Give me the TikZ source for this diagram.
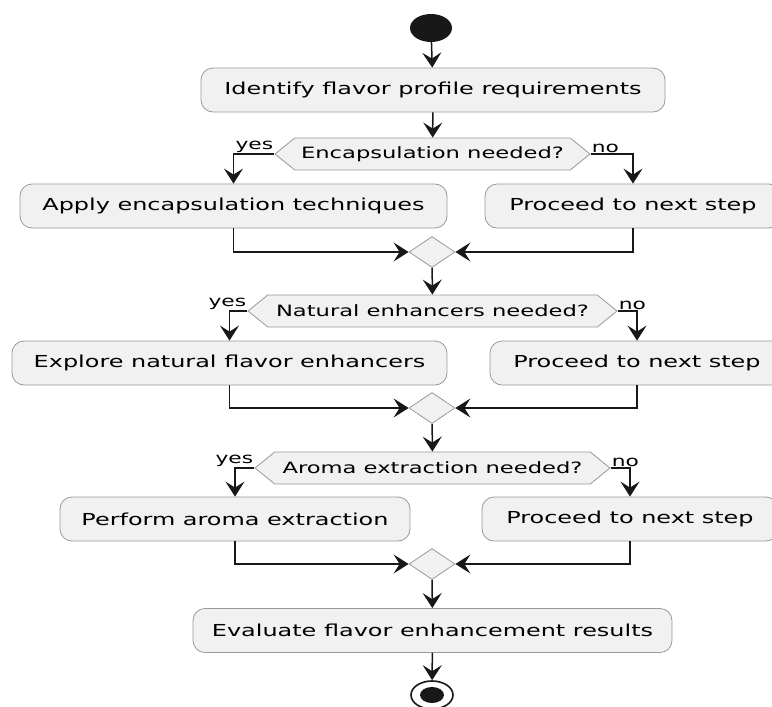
\documentclass[tikz,border=0pt]{standalone}
\usepackage{fontspec}
\setmainfont[FakeStretch=1.45]{DejaVu Sans}
\usetikzlibrary{shapes.geometric,shapes.symbols,arrows.meta}
\definecolor{boxfill}{HTML}{F1F1F1}
\definecolor{ink}{HTML}{181818}
\tikzset{
  action/.style={draw=gray!80, line width=0.8pt, fill=boxfill, rounded corners=12pt,
    minimum height=44pt, inner sep=0pt, font=\fontsize{16.5}{18}\selectfont},
  question/.style={signal, signal to=west and east, signal pointer angle=78,
    draw=gray!80, line width=0.8pt, fill=boxfill, minimum height=32pt, inner sep=0pt,
    font=\fontsize{15.6}{17}\selectfont},
  merge/.style={diamond, aspect=1.48, draw=gray!80, line width=0.8pt, fill=boxfill,
    minimum width=46pt, minimum height=31pt, inner sep=0pt},
  flow/.style={draw=ink, line width=1.5pt, -{Stealth[length=15pt,width=19pt,inset=6pt]}},
  branch/.style={font=\fontsize{15}{17}\selectfont, inner sep=0.5pt},
}
\begin{document}
\begin{tikzpicture}[x=1pt,y=-1pt]
\useasboundingbox (0,0) rectangle (772,707);
% start and first step
\node[ellipse, fill=ink, minimum width=42pt, minimum height=28pt, inner sep=0pt] (start) at (431,28) {};
\node[action, minimum width=464pt] (identify) at (433,90) {Identify flavor profile requirements};
% first choice
\node[question, minimum width=315pt] (encap) at (432.5,154) {Encapsulation needed?};
\node[action, minimum width=427pt] (apply) at (233.5,206) {Apply encapsulation techniques};
\node[action, minimum width=296pt] (nextA) at (633,206) {Proceed to next step};
\node[merge] (mergeA) at (432,252) {};
% second choice
\node[question, minimum width=369pt] (natural) at (432.5,311) {Natural enhancers needed?};
\node[action, minimum width=435pt] (explore) at (229.5,363) {Explore natural flavor enhancers};
\node[action, minimum width=294pt] (nextB) at (637,363) {Proceed to next step};
\node[merge] (mergeB) at (432,408) {};
% third choice
\node[question, minimum width=355pt] (aroma) at (432.5,468) {Aroma extraction needed?};
\node[action, minimum width=350pt] (perform) at (235,519) {Perform aroma extraction};
\node[action, minimum width=296pt] (nextC) at (630,519) {Proceed to next step};
\node[merge] (mergeC) at (432,564) {};
% last step and end
\node[action, minimum width=479pt] (evaluate) at (432.5,630.5) {Evaluate flavor enhancement results};
\node[ellipse, draw=ink, line width=1.6pt, minimum width=42pt, minimum height=28pt, inner sep=0pt] (stop) at (432,695) {};
\node[ellipse, fill=ink, minimum width=24pt, minimum height=16pt, inner sep=0pt] (stopdot) at (stop.center) {};

\draw[flow] (start) -- (identify);
\draw[flow] (identify) -- (encap);
\draw[flow] (encap.west) node[branch, anchor=south east] {yes} -| (apply.north);
\draw[flow] (encap.east) node[branch, anchor=south west] {no} -| (nextA.north);
\draw[flow] (apply.south) |- (mergeA.west);
\draw[flow] (nextA.south) |- (mergeA.east);
\draw[flow] (mergeA) -- (natural);
\draw[flow] (natural.west) node[branch, anchor=south east] {yes} -| (explore.north);
\draw[flow] (natural.east) node[branch, anchor=south west] {no} -| (nextB.north);
\draw[flow] (explore.south) |- (mergeB.west);
\draw[flow] (nextB.south) |- (mergeB.east);
\draw[flow] (mergeB) -- (aroma);
\draw[flow] (aroma.west) node[branch, anchor=south east] {yes} -| (perform.north);
\draw[flow] (aroma.east) node[branch, anchor=south west] {no} -| (nextC.north);
\draw[flow] (perform.south) |- (mergeC.west);
\draw[flow] (nextC.south) |- (mergeC.east);
\draw[flow] (mergeC) -- (evaluate);
\draw[flow] (evaluate) -- (stop);
\end{tikzpicture}
\end{document}
